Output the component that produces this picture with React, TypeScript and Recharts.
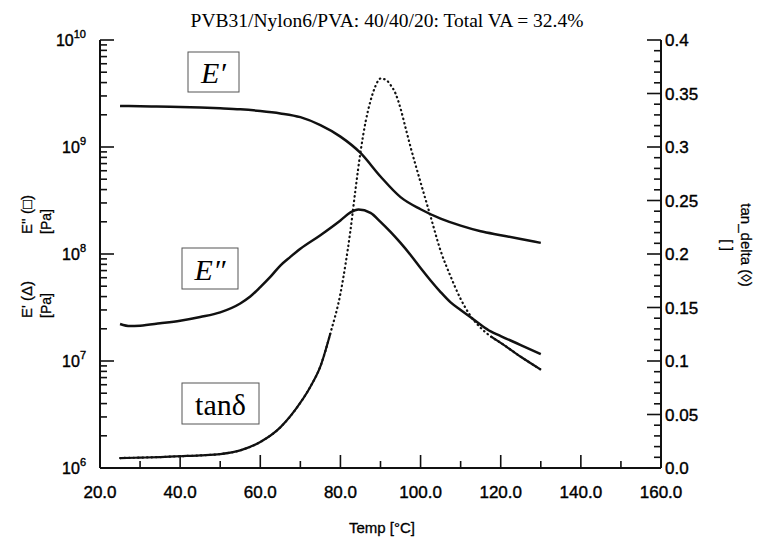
import React from 'react';
import { ComposedChart, Line, XAxis, YAxis } from 'recharts';

const W = 768;
const H = 540;
// plot frame (pixels) – used for tick drawing and margins
const PLOT_LEFT = 100;
const PLOT_RIGHT = 661;
const PLOT_TOP = 40;
const PLOT_BOTTOM = 468;

// E' storage modulus [Pa]
const storageTemps = [25, 30, 40, 50, 55, 60, 65, 70, 75, 80, 85, 90, 95, 100, 105, 110, 115, 120, 125, 130];
const storageModulus = [
  2.42e9, 2.4e9, 2.37e9, 2.3e9, 2.25e9, 2.17e9, 2.06e9, 1.9e9, 1.6e9, 1.25e9,
  8.8e8, 5.3e8, 3.4e8, 2.62e8, 2.14e8, 1.84e8, 1.63e8, 1.5e8, 1.38e8, 1.27e8,
];

// E'' loss modulus [Pa]
const lossTemps = [
  25, 27.5, 30, 35, 40, 45, 50, 55, 57.5, 60, 62.5, 65, 67.5, 70, 75, 80, 82.5, 84.5,
  87.5, 90, 92.5, 95, 97.5, 100, 102.5, 105, 107.5, 110, 112.5, 115, 117.5, 120, 125, 130,
];
const lossModulus = [
  2.22e7, 2.12e7, 2.14e7, 2.25e7, 2.38e7, 2.58e7, 2.85e7, 3.45e7, 4.0e7, 4.9e7, 6.1e7, 7.8e7,
  9.4e7, 1.12e8, 1.5e8, 2.06e8, 2.45e8, 2.6e8, 2.42e8, 2.0e8, 1.61e8, 1.27e8, 9.8e7, 7.4e7,
  5.66e7, 4.41e7, 3.53e7, 3.0e7, 2.56e7, 2.18e7, 1.89e7, 1.71e7, 1.41e7, 1.16e7,
];

// tan delta
const tanTemps = [
  25, 30, 35, 40, 45, 50, 55, 60, 65, 70, 72.5, 75, 77.5, 80, 81.25, 82.5, 83.75, 85, 86.25,
  87.5, 88.75, 90, 91.25, 92.5, 93.75, 95, 96.25, 97.5, 100, 102.5, 105, 107.5, 110, 112.5,
  115, 117.5, 120, 125, 130,
];
const tanDelta = [
  0.0093, 0.0097, 0.0102, 0.011, 0.0118, 0.013, 0.0165, 0.0243, 0.038, 0.061, 0.076, 0.095,
  0.126, 0.163, 0.19, 0.222, 0.26, 0.295, 0.323, 0.343, 0.357, 0.364, 0.363, 0.358, 0.35,
  0.336, 0.318, 0.3, 0.267, 0.235, 0.203, 0.179, 0.158, 0.142, 0.131, 0.123, 0.117, 0.104, 0.092,
];

const xTicks = [20, 30, 40, 50, 60, 70, 80, 90, 100, 110, 120, 130, 140, 150, 160];
const decades = [6, 7, 8, 9];
const modTicks = [...decades.flatMap((e) => [1, 2, 3, 4, 5, 6, 7, 8, 9].map((m) => m * Math.pow(10, e))), 1e10];
const tanTicks = Array.from({ length: 41 }, (_, i) => i / 100);

const storageData = storageTemps.map((t, i) => ({ t, v: storageModulus[i] }));
const lossData = lossTemps.map((t, i) => ({ t, v: lossModulus[i] }));
const tanDotted = tanTemps.map((t, i) => ({ t, v: tanDelta[i] }));
// low, densely sampled parts of the tan delta trace look solid in the original
const tanSolid = tanTemps.map((t, i) => ({ t, v: tanDelta[i] <= 0.127 ? tanDelta[i] : null }));

const sans = '"Liberation Sans", Arial, sans-serif';
const serif = '"Liberation Serif", "Times New Roman", serif';
const INK = '#111';

const XTick = ({ x, payload }: any) => {
  const v = payload.value as number;
  const major = v % 20 === 0;
  return (
    <g>
      <line x1={x} x2={x} y1={PLOT_BOTTOM} y2={PLOT_BOTTOM - (major ? 13 : 7)} stroke={INK} strokeWidth={1.6} />
      {major && (
        <text x={x} y={PLOT_BOTTOM + 30} textAnchor="middle" fontFamily={sans} fontSize={17} fill="#000" stroke="#000" strokeWidth={0.4}>
          {v.toFixed(1)}
        </text>
      )}
    </g>
  );
};

const ModTick = ({ y, payload }: any) => {
  const v = payload.value as number;
  const e = Math.floor(Math.log10(v) + 1e-9);
  const mant = v / Math.pow(10, e);
  const major = Math.abs(mant - 1) < 1e-6;
  return (
    <g>
      <line x1={PLOT_LEFT} x2={PLOT_LEFT + (major ? 14 : 7)} y1={y} y2={y} stroke={INK} strokeWidth={1.6} />
      {major && (
        <text x={86} y={y + 6} textAnchor="end" fontFamily={sans} fill="#000" stroke="#000" strokeWidth={0.4}>
          <tspan fontSize={16}>10</tspan>
          <tspan fontSize={11} dy={-8}>{e}</tspan>
        </text>
      )}
    </g>
  );
};

const TanTick = ({ y, payload }: any) => {
  const v = payload.value as number;
  const major = Math.round(v * 100) % 5 === 0;
  return (
    <g>
      <line x1={PLOT_RIGHT} x2={PLOT_RIGHT - (major ? 14 : 7)} y1={y} y2={y} stroke={INK} strokeWidth={1.6} />
      {major && (
        <text x={PLOT_RIGHT + 4} y={y + 6} textAnchor="start" fontFamily={sans} fontSize={17} fill="#000" stroke="#000" strokeWidth={0.4}>
          {v === 0 ? '0.0' : String(v)}
        </text>
      )}
    </g>
  );
};

const LabelBox = ({ x, y, w, h, children, italic }: any) => (
  <g>
    <rect x={x} y={y} width={w} height={h} fill="#fff" stroke="#555" strokeWidth={1} />
    <text x={x + w / 2} y={y + h - 9} textAnchor="middle" fontFamily={serif} fontSize={30} fontStyle={italic ? 'italic' : 'normal'} fill="#000">
      {children}
    </text>
  </g>
);

const AxisTitle = ({ x, y, angle, anchor = 'middle', size = 15, children }: any) => (
  <text
    x={x}
    y={y}
    transform={`rotate(${angle} ${x} ${y})`}
    textAnchor={anchor}
    dominantBaseline="central"
    fontFamily={sans}
    fontSize={size}
    fill="#000"
    stroke="#000"
    strokeWidth={0.25}
  >
    {children}
  </text>
);

export default function App() {
  return (
    <div style={{ position: 'absolute', left: 0, top: 0, width: W, height: H, background: '#fff' }}>
      <ComposedChart width={W} height={H} margin={{ top: PLOT_TOP, right: 0, bottom: 0, left: 0 }}>
        <XAxis
          dataKey="t"
          type="number"
          domain={[20, 160]}
          ticks={xTicks}
          interval={0}
          height={H - PLOT_BOTTOM}
          tick={<XTick />}
          tickLine={false}
          axisLine={{ stroke: INK, strokeWidth: 2 }}
        />
        <XAxis xAxisId="top" orientation="top" type="number" domain={[20, 160]} height={0} tick={false} tickLine={false} axisLine={{ stroke: INK, strokeWidth: 2 }} />
        <YAxis
          yAxisId="mod"
          type="number"
          scale="log"
          domain={[1e6, 1e10]}
          allowDataOverflow
          ticks={modTicks}
          interval={0}
          width={PLOT_LEFT}
          tick={<ModTick />}
          tickLine={false}
          axisLine={{ stroke: INK, strokeWidth: 2 }}
        />
        <YAxis
          yAxisId="tan"
          orientation="right"
          type="number"
          domain={[0, 0.4]}
          ticks={tanTicks}
          interval={0}
          width={W - PLOT_RIGHT}
          tick={<TanTick />}
          tickLine={false}
          axisLine={{ stroke: INK, strokeWidth: 2 }}
        />
        <Line data={storageData} dataKey="v" yAxisId="mod" type="monotone" stroke={INK} strokeWidth={2.5} dot={false} isAnimationActive={false} />
        <Line data={lossData} dataKey="v" yAxisId="mod" type="monotone" stroke={INK} strokeWidth={2.5} dot={false} isAnimationActive={false} />
        <Line data={tanDotted} dataKey="v" yAxisId="tan" type="monotone" stroke={INK} strokeWidth={2.2} strokeDasharray="0.5 4" strokeLinecap="round" dot={false} isAnimationActive={false} />
        <Line data={tanSolid} dataKey="v" yAxisId="tan" type="monotone" stroke={INK} strokeWidth={2.2} dot={false} connectNulls={false} isAnimationActive={false} />
      </ComposedChart>

      <svg width={W} height={H} style={{ position: 'absolute', left: 0, top: 0, pointerEvents: 'none' }}>
        <text x={387} y={27} textAnchor="middle" fontFamily={serif} fontSize={19.5} fill="#000">
          PVB31/Nylon6/PVA: 40/40/20: Total VA = 32.4%
        </text>

        <LabelBox x={188} y={52} w={51} h={40} italic>E′</LabelBox>
        <LabelBox x={182} y={248} w={56} h={41} italic>E″</LabelBox>
        <LabelBox x={182} y={383} w={77} h={41}>tanδ</LabelBox>

        <AxisTitle x={26} y={234} angle={-90} anchor="start">E'' (□)</AxisTitle>
        <AxisTitle x={46} y={234} angle={-90} anchor="start" size={14}>[Pa]</AxisTitle>
        <AxisTitle x={26} y={318} angle={-90} anchor="start">E' (Δ)</AxisTitle>
        <AxisTitle x={46} y={318} angle={-90} anchor="start" size={14}>[Pa]</AxisTitle>
        <AxisTitle x={746} y={245} angle={90}>tan_delta (◊)</AxisTitle>
        <AxisTitle x={727} y={245} angle={90} size={14}>[ ]</AxisTitle>

        <text x={382} y={533} textAnchor="middle" fontFamily={sans} fontSize={15} fill="#000" stroke="#000" strokeWidth={0.3}>
          Temp [°C]
        </text>
      </svg>
    </div>
  );
}
